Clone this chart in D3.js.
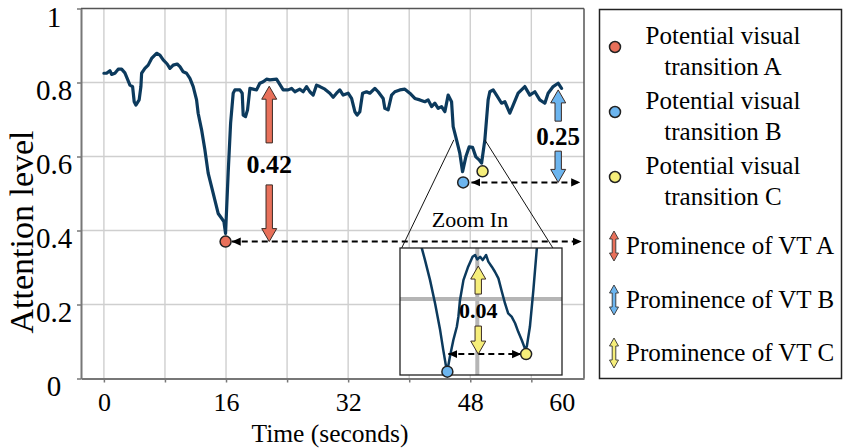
<!DOCTYPE html>
<html>
<head>
<meta charset="utf-8">
<script src="https://cdn.jsdelivr.net/npm/d3@7"></script>
<style>
  html, body { margin: 0; padding: 0; background: #fff; }
  svg { display: block; font-family: "Liberation Serif", "Times New Roman", serif; }
</style>
</head>
<body>
<svg id="chart" width="844" height="448"></svg>
<script>
// ---- attention trace (seconds, attention level) ----
const timeSec = [0, 0.35, 0.79, 1.01, 1.44, 1.87, 2.32, 2.75, 3.05, 3.41, 3.76, 3.97, 4.19, 4.62, 4.85, 4.94, 5.37, 5.80, 6.25, 6.90, 7.34, 7.77, 8.29, 8.65, 9.08, 9.60, 9.96, 10.39, 10.83, 11.27, 11.70, 12.14, 12.35, 12.80, 13.23, 13.66, 14.11, 14.54, 14.97, 15.42, 15.72, 15.94, 16.28, 16.60, 16.94, 17.16, 17.82, 18.12, 18.25, 18.56, 18.82, 19.13, 19.56, 20.00, 20.43, 20.87, 21.31, 21.74, 22.62, 23.49, 24.14, 24.59, 25.02, 25.67, 26.11, 26.55, 26.98, 27.42, 27.86, 28.29, 28.95, 29.60, 30.04, 30.48, 30.91, 31.35, 32.00, 32.45, 32.88, 33.18, 33.53, 33.89, 34.41, 34.84, 35.50, 35.93, 36.59, 36.81, 37.24, 37.69, 38.12, 38.77, 39.43, 40.08, 40.74, 41.39, 42.05, 42.48, 42.93, 43.36, 43.79, 44.24, 44.67, 45.10, 45.55, 45.76, 46.20, 46.63, 46.99, 47.42, 47.85, 48.30, 48.73, 49.16, 49.48, 49.91, 50.34, 50.56, 51.00, 51.44, 52.10, 52.53, 53.18, 53.62, 54.27, 55.15, 55.80, 56.46, 57.11, 57.77, 58.20, 58.86, 59.51, 59.96];
const attention = [0.825, 0.825, 0.832, 0.822, 0.825, 0.836, 0.836, 0.826, 0.811, 0.793, 0.789, 0.748, 0.739, 0.753, 0.789, 0.825, 0.838, 0.847, 0.865, 0.879, 0.874, 0.861, 0.850, 0.838, 0.847, 0.850, 0.843, 0.829, 0.825, 0.811, 0.789, 0.753, 0.717, 0.672, 0.618, 0.555, 0.518, 0.482, 0.446, 0.433, 0.424, 0.392, 0.555, 0.690, 0.771, 0.780, 0.780, 0.771, 0.712, 0.708, 0.726, 0.784, 0.782, 0.780, 0.798, 0.802, 0.809, 0.807, 0.809, 0.780, 0.780, 0.784, 0.775, 0.782, 0.775, 0.789, 0.775, 0.766, 0.793, 0.789, 0.782, 0.771, 0.760, 0.771, 0.780, 0.766, 0.771, 0.757, 0.721, 0.712, 0.721, 0.771, 0.775, 0.771, 0.784, 0.775, 0.757, 0.730, 0.726, 0.766, 0.775, 0.780, 0.782, 0.771, 0.757, 0.753, 0.748, 0.753, 0.735, 0.744, 0.730, 0.735, 0.721, 0.766, 0.748, 0.681, 0.645, 0.609, 0.559, 0.599, 0.626, 0.625, 0.599, 0.591, 0.582, 0.645, 0.753, 0.775, 0.780, 0.766, 0.744, 0.748, 0.717, 0.739, 0.771, 0.789, 0.766, 0.775, 0.753, 0.744, 0.771, 0.789, 0.798, 0.784];

// ---- magnified B–C stretch shown in the "Zoom In" panel ----
const insetTime = [46.12, 46.24, 46.34, 46.50, 46.66, 46.82, 46.92, 47.01, 47.05, 47.13, 47.24, 47.35, 47.40, 47.45, 47.56, 47.71, 47.85, 47.93, 48.00, 48.09, 48.17, 48.28, 48.35, 48.46, 48.56, 48.67, 48.78, 48.88, 48.98, 49.09, 49.20, 49.30, 49.41, 49.51, 49.57, 49.67, 49.78, 49.89, 49.96];
const insetAttention = [0.6286, 0.6230, 0.6177, 0.6086, 0.5980, 0.5859, 0.5768, 0.5692, 0.5674, 0.5738, 0.5814, 0.5874, 0.5920, 0.5995, 0.6086, 0.6147, 0.6192, 0.6200, 0.6180, 0.6192, 0.6177, 0.6200, 0.6170, 0.6147, 0.6124, 0.6094, 0.6033, 0.5980, 0.5935, 0.5920, 0.5890, 0.5851, 0.5814, 0.5776, 0.5783, 0.5874, 0.6041, 0.6230, 0.6286];

// ---- potential visual transitions ----
const vtNames = ["A", "B", "C"];
const vtTime = [15.94, 47.07, 49.61];
const vtLevel = [0.37, 0.53, 0.56];
const vtColors = ["#e8705a", "#6cb5ef", "#f6ee7a"];
const prominence = [0.42, 0.25, 0.04];
const insetVtTime = [47.05, 49.55];     // B and C inside the panel
const insetVtLevel = [0.567, 0.575];

// ---- axes ----
const xTickValues = [0, 8, 16, 24, 32, 40, 48, 56, 60];
const xTickLabels = [0, 16, 32, 48, 60];
const yTickValues = [0, 0.2, 0.4, 0.6, 0.8, 1];

const svg = d3.select("#chart");
const plot = { left: 81, right: 584, top: 8.5, bottom: 378.5 };
const x = d3.scaleLinear().domain([-3.0, 62.9]).range([plot.left, plot.right]);
const y = d3.scaleLinear().domain([0, 1]).range([plot.bottom, plot.top]);

// arrowhead for dashed guides
const defs = svg.append("defs");
defs.append("marker").attr("id", "head").attr("viewBox", "0 0 10 10")
  .attr("refX", 10).attr("refY", 5).attr("markerWidth", 9).attr("markerHeight", 9)
  .attr("markerUnits", "userSpaceOnUse").attr("orient", "auto-start-reverse")
  .append("path").attr("d", "M0,0.5L10,5L0,9.5Z").attr("fill", "#000");

// grid
const grid = svg.append("g");
grid.selectAll("line.gv").data(xTickValues.filter(d => d <= 56)).join("line")
  .attr("x1", d => x(d)).attr("x2", d => x(d)).attr("y1", plot.top).attr("y2", plot.bottom)
  .attr("stroke", "#cfcfcf").attr("stroke-width", 1.4);
grid.selectAll("line.gh").data(yTickValues.filter(d => d > 0 && d < 1)).join("line")
  .attr("x1", plot.left).attr("x2", plot.right).attr("y1", d => y(d)).attr("y2", d => y(d))
  .attr("stroke", "#cfcfcf").attr("stroke-width", 1.4);

// frame top / right
svg.append("line").attr("x1", plot.left).attr("x2", plot.right).attr("y1", plot.top).attr("y2", plot.top)
  .attr("stroke", "#555").attr("stroke-width", 1.5);
svg.append("line").attr("x1", plot.right).attr("x2", plot.right).attr("y1", plot.top).attr("y2", plot.bottom)
  .attr("stroke", "#555").attr("stroke-width", 1.5);

// y axis
const yAxisG = svg.append("g").attr("transform", `translate(${plot.left},0)`)
  .call(d3.axisLeft(y).tickValues(yTickValues).tickSize(4).tickSizeOuter(0)
    .tickFormat(d => (d === 0 || d === 1) ? String(d) : d.toFixed(1)));
yAxisG.select(".domain").attr("stroke", "#777").attr("stroke-width", 2);
yAxisG.selectAll(".tick line").attr("stroke", "#777").attr("stroke-width", 1.5);
yAxisG.selectAll(".tick text").attr("x", -27).attr("text-anchor", "middle")
  .attr("y", d => d === 1 ? 9 : 8).attr("dy", "0.32em")
  .style("font-family", "Liberation Serif").style("font-size", "29px").attr("fill", "#000");

// x axis
const xAxisG = svg.append("g").attr("transform", `translate(0,${plot.bottom})`)
  .call(d3.axisBottom(x).tickValues(xTickValues).tickSize(4).tickSizeOuter(0)
    .tickFormat(d => xTickLabels.includes(d) ? String(d) : ""));
xAxisG.select(".domain").attr("stroke", "#777").attr("stroke-width", 2);
xAxisG.selectAll(".tick line").attr("stroke", "#777").attr("stroke-width", 1.5)
  .attr("opacity", d => d === 60 ? 0 : 1);
xAxisG.selectAll(".tick text").attr("y", 14)
  .style("font-family", "Liberation Serif").style("font-size", "26px").attr("fill", "#000");

// axis titles
svg.append("text").attr("x", 330).attr("y", 442).attr("text-anchor", "middle")
  .style("font-size", "25.5px").text("Time (seconds)");
svg.append("text").attr("transform", "translate(33,232) rotate(-90)").attr("text-anchor", "middle")
  .style("font-size", "34px").text("Attention level");

// main trace
const series = timeSec.map((t, i) => ({ t, v: attention[i] }));
svg.append("path").datum(series)
  .attr("d", d3.line().x(d => x(d.t)).y(d => y(d.v)))
  .attr("fill", "none").attr("stroke", "#0c3a5d").attr("stroke-width", 3.2)
  .attr("stroke-linejoin", "round").attr("stroke-linecap", "round");

// block arrow: tip at yTip, shaft ending at yEnd
function blockArrow(g, cx, yTip, yEnd, fill, hw, sw, hl) {
  const dir = yEnd > yTip ? 1 : -1;
  const yb = yTip + dir * hl;
  const pts = [[cx, yTip], [cx + hw, yb], [cx + sw, yb], [cx + sw, yEnd], [cx - sw, yEnd], [cx - sw, yb], [cx - hw, yb]];
  g.append("path").attr("d", "M" + pts.join("L") + "Z")
    .attr("fill", fill).attr("stroke", "#3b2b25").attr("stroke-width", 1);
}
function prominenceMarker(g, cx, yLow, yHigh, gap, color, label, size) {
  const mid = (yLow + yHigh) / 2;
  blockArrow(g, cx, yHigh, mid - gap, color, 7.5, 3.2, 13);
  blockArrow(g, cx, yLow, mid + gap, color, 7.5, 3.2, 13);
  g.append("text").attr("x", cx).attr("y", mid).attr("dy", "0.35em").attr("text-anchor", "middle")
    .style("font-size", size + "px").style("font-weight", "bold").text(label);
}
function dashedGuide(g, x1, x2, yy) {
  g.append("line").attr("x1", x1).attr("x2", x2).attr("y1", yy).attr("y2", yy)
    .attr("stroke", "#000").attr("stroke-width", 2).attr("stroke-dasharray", "6,4")
    .attr("marker-start", "url(#head)").attr("marker-end", "url(#head)");
}

const ann = svg.append("g");
// VT A: dashed guide + prominence arrows
dashedGuide(ann, x(16.75), x(62.6), y(vtLevel[0]));
prominenceMarker(ann, x(21.66), y(vtLevel[0]), y(vtLevel[0] + prominence[0]), 21, vtColors[0], prominence[0].toFixed(2), 26);
// VT B
dashedGuide(ann, x(48.15), x(62.4), y(vtLevel[1]));
prominenceMarker(ann, x(59.52), y(vtLevel[1]), y(vtLevel[1] + prominence[1]), 15, vtColors[1], prominence[1].toFixed(2), 25);

// zoom connector lines
const box = { x0: 400, x1: 562, y0: 248, y1: 375 };
const insetX = d3.scaleLinear().domain([45.546, 50.689]).range([box.x0, box.x1]);
const insetY = d3.scaleLinear().domain([0.5655, 0.6232]).range([box.y1, box.y0]);
svg.append("line").attr("x1", x(45.85)).attr("y1", y(0.645)).attr("x2", insetX(45.6)).attr("y2", box.y0)
  .attr("stroke", "#111").attr("stroke-width", 1);
svg.append("line").attr("x1", x(49.91)).attr("y1", y(0.645)).attr("x2", insetX(50.4)).attr("y2", box.y0)
  .attr("stroke", "#111").attr("stroke-width", 1);
svg.append("text").attr("x", 470).attr("y", 227).attr("text-anchor", "middle")
  .style("font-size", "22px").text("Zoom In");

// markers on the main trace
svg.selectAll("circle.vt").data(vtNames).join("circle")
  .attr("cx", (d, i) => x(vtTime[i])).attr("cy", (d, i) => y(vtLevel[i])).attr("r", 5.5)
  .attr("fill", (d, i) => vtColors[i]).attr("stroke", "#222").attr("stroke-width", 1.5);

// inset panel
const inset = svg.append("g");
inset.append("rect").attr("x", box.x0).attr("y", box.y0).attr("width", box.x1 - box.x0).attr("height", box.y1 - box.y0)
  .attr("fill", "#fff");
defs.append("clipPath").attr("id", "insetClip").append("rect")
  .attr("x", box.x0).attr("y", box.y0).attr("width", box.x1 - box.x0).attr("height", box.y1 - box.y0);
inset.append("line").attr("x1", box.x0).attr("x2", box.x1).attr("y1", insetY(0.6)).attr("y2", insetY(0.6))
  .attr("stroke", "#b5b5b5").attr("stroke-width", 4);
inset.append("line").attr("x1", insetX(48)).attr("x2", insetX(48)).attr("y1", box.y0).attr("y2", box.y1)
  .attr("stroke", "#b5b5b5").attr("stroke-width", 4);
const insetSeries = insetTime.map((t, i) => ({ t, v: insetAttention[i] }));
inset.append("path").datum(insetSeries).attr("clip-path", "url(#insetClip)")
  .attr("d", d3.line().x(d => insetX(d.t)).y(d => insetY(d.v)))
  .attr("fill", "none").attr("stroke", "#0c3a5d").attr("stroke-width", 2.5).attr("stroke-linejoin", "round");
inset.append("rect").attr("x", box.x0).attr("y", box.y0).attr("width", box.x1 - box.x0).attr("height", box.y1 - box.y0)
  .attr("fill", "none").attr("stroke", "#222").attr("stroke-width", 1.3);
dashedGuide(inset, insetX(47.08), insetX(49.39), insetY(insetVtLevel[1]));
prominenceMarker(inset, insetX(48.03), insetY(insetVtLevel[1]), insetY(insetVtLevel[1] + prominence[2]), 16, vtColors[2], prominence[2].toFixed(2), 22);
inset.selectAll("circle.ivt").data(insetVtTime).join("circle")
  .attr("cx", d => insetX(d)).attr("cy", (d, i) => insetY(insetVtLevel[i])).attr("r", 5.5)
  .attr("fill", (d, i) => vtColors[i + 1]).attr("stroke", "#222").attr("stroke-width", 1.5);

// legend
const leg = svg.append("g");
leg.append("rect").attr("x", 599.5).attr("y", 9.5).attr("width", 242).attr("height", 369)
  .attr("fill", "#fff").attr("stroke", "#222").attr("stroke-width", 1.5);
const legTop = [47, 112, 177];
vtNames.forEach((n, i) => {
  leg.append("circle").attr("cx", 615).attr("cy", legTop[i]).attr("r", 5.5)
    .attr("fill", vtColors[i]).attr("stroke", "#222").attr("stroke-width", 1.5);
  leg.append("text").attr("x", 723).attr("y", legTop[i] - 3).attr("text-anchor", "middle")
    .style("font-size", "25px").text("Potential visual");
  leg.append("text").attr("x", 723).attr("y", legTop[i] + 28).attr("text-anchor", "middle")
    .style("font-size", "25px").text("transition " + n);
});
const legProm = [246, 300, 353];
vtNames.forEach((n, i) => {
  const cy = legProm[i], hw = 4.5, sw = 1.8, hl = 8, y0 = cy - 15, y1 = cy + 15, cx = 614;
  const pts = [[cx, y0], [cx + hw, y0 + hl], [cx + sw, y0 + hl], [cx + sw, y1 - hl], [cx + hw, y1 - hl], [cx, y1],
    [cx - hw, y1 - hl], [cx - sw, y1 - hl], [cx - sw, y0 + hl], [cx - hw, y0 + hl]];
  leg.append("path").attr("d", "M" + pts.join("L") + "Z")
    .attr("fill", vtColors[i]).attr("stroke", "#333").attr("stroke-width", 0.9);
  leg.append("text").attr("x", 626).attr("y", cy + 8)
    .style("font-size", "25px").text("Prominence of VT " + n);
});
</script>
</body>
</html>
